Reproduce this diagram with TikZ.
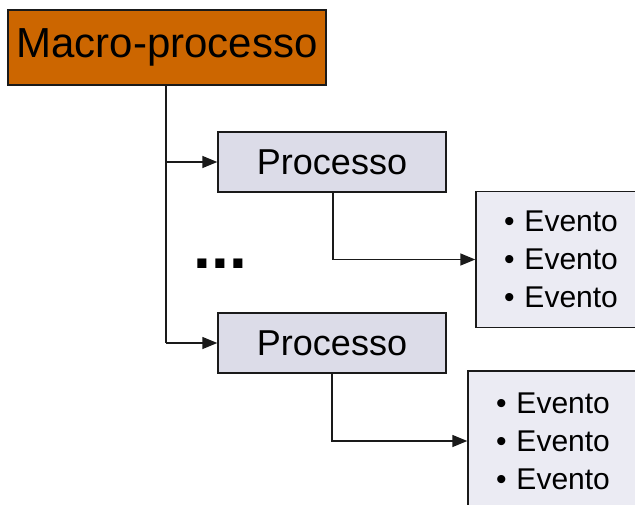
\documentclass[tikz,border=0pt]{standalone}
\usepackage{fontspec}
\setmainfont{Liberation Sans}
\usetikzlibrary{arrows.meta,positioning}
\definecolor{macrofill}{HTML}{CC6600}
\definecolor{procfill}{HTML}{DCDCE8}
\definecolor{evfill}{HTML}{EBEBF3}
\definecolor{edge}{HTML}{1A1A1A}
\begin{document}
\begin{tikzpicture}[x=1pt,y=-1pt,
  boxbase/.style={draw=edge, line width=1.4pt, inner sep=0pt, anchor=center},
  macrobox/.style={boxbase, fill=macrofill, minimum width=318pt, minimum height=75pt,
    font=\fontsize{42}{50}\selectfont},
  procbox/.style={boxbase, fill=procfill, minimum width=228pt, minimum height=60pt,
    font=\fontsize{36}{43}\selectfont},
  evbox/.style={boxbase, fill=evfill, text width=124pt, inner xsep=28pt, inner ysep=0pt,
    align=left, font=\fontsize{30}{38}\selectfont},
  link/.style={draw=edge, line width=1.4pt},
  arr/.style={link, -{Triangle[length=15pt,width=12pt]}},
]
\useasboundingbox (0,0) rectangle (635,504);
\clip (0,0) rectangle (635,504);
\fill[white] (0,0) rectangle (635,504);

\node[macrobox] (macro) at (167,47.5) {Macro-processo};
\node[procbox] (p1) at (332,162) {Processo};
\node[procbox] (p2) at (332,343) {Processo};
\node[evbox, minimum height=136pt] (e1) at (566,259.5)
  {\textbullet{} Evento\\\textbullet{} Evento\\\textbullet{} Evento};
\node[evbox, minimum height=140pt] (e2) at (558,441)
  {\textbullet{} Evento\\\textbullet{} Evento\\\textbullet{} Evento};
\node[anchor=base west, inner sep=0pt, font=\fontsize{64}{70}\bfseries] (dots) at (193.5,268.7) {...};

\coordinate (trunk) at (166,0);
\draw[link] (macro.south -| trunk) -- (p2.west -| trunk);
\draw[arr] (p1.west -| trunk) -- (p1.west);
\draw[arr] (p2.west -| trunk) -- (p2.west);
\draw[arr] ([xshift=1pt]p1.south) |- (e1.west);
\draw[arr] ([xshift=0pt]p2.south) |- (e2.west);
\end{tikzpicture}
\end{document}
